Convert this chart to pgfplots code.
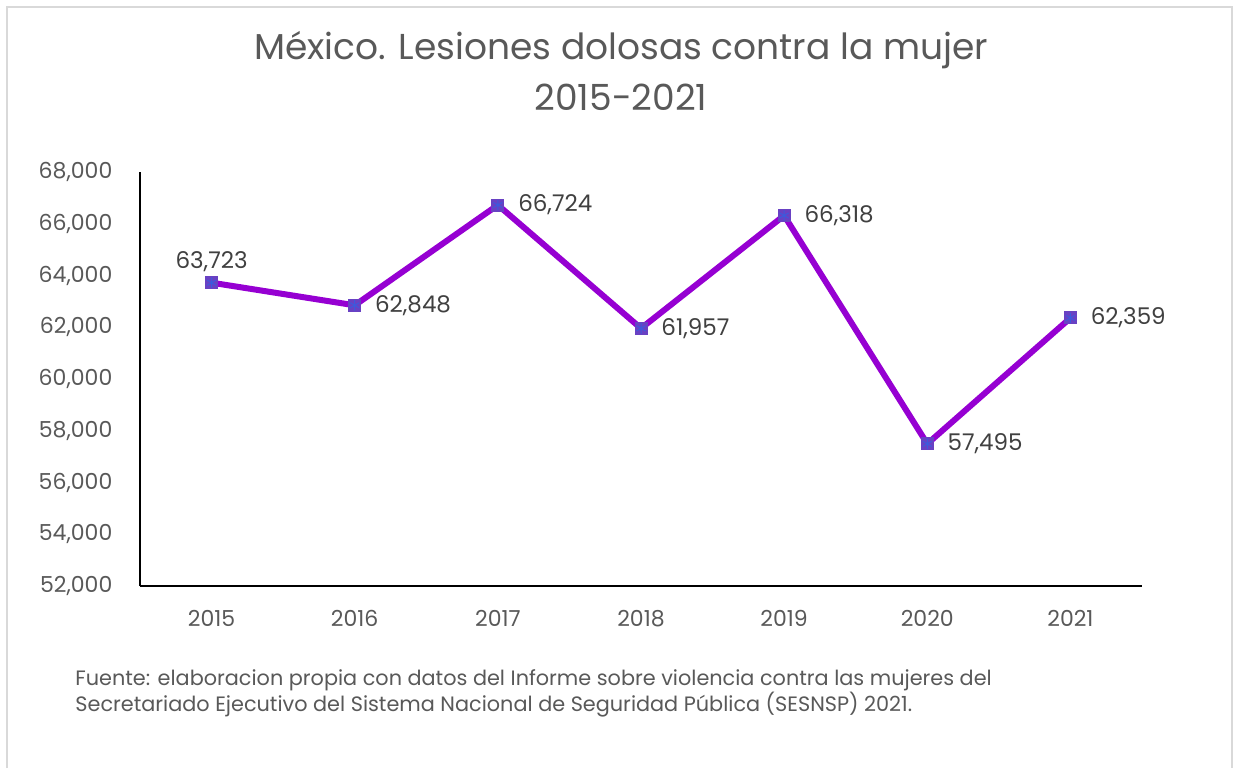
\documentclass[border=0pt]{standalone}
\usepackage{fontspec}
\setmainfont{Poppins}
\usepackage{pgfplots}
\pgfplotsset{compat=1.18}
\definecolor{linepurple}{RGB}{150,0,210}
\definecolor{markfill}{RGB}{105,65,195}
\definecolor{markstar}{RGB}{60,90,220}
\definecolor{txtgray}{RGB}{89,89,89}
\definecolor{lblgray}{RGB}{64,64,64}
\definecolor{framegray}{RGB}{217,217,217}
\begin{document}
\begin{tikzpicture}[x=1pt,y=1pt]
\useasboundingbox (0,0) rectangle (616.5,384);
\fill[white] (0,0) rectangle (616.5,384);
\draw[framegray, line width=1pt] (3.5,0) -- (3.5,380.5) -- (616,380.5) -- (616,0);
\node[font=\fontsize{18}{21}\selectfont, text=txtgray] at (310.5,359) {México. Lesiones dolosas contra la mujer};
\node[font=\fontsize{18}{21}\selectfont, text=txtgray] at (310.5,335.5) {2015-2021};
\node[anchor=base west, font=\fontsize{10.4}{12}\selectfont, text=txtgray, inner sep=0pt] at (37.5,41.5) {Fuente: elaboracion propia con datos del Informe sobre violencia contra las mujeres del};
\node[anchor=base west, font=\fontsize{10.4}{12}\selectfont, text=txtgray, inner sep=0pt] at (37.5,28.5) {Secretariado Ejecutivo del Sistema Nacional de Seguridad Pública (SESNSP) 2021.};
\begin{axis}[
  at={(70pt,91pt)}, anchor=south west,
  scale only axis, width=501pt, height=207pt,
  xmin=-0.5, xmax=6.5, ymin=52000, ymax=68000,
  xtick={0,1,2,3,4,5,6},
  xticklabels={2015,2016,2017,2018,2019,2020,2021},
  ytick={52000,54000,56000,58000,60000,62000,64000,66000,68000},
  scaled y ticks=false,
  axis x line=bottom, axis y line=left,
  axis line style={-, black, line width=1pt},
  tick style={draw=none},
  /pgf/number format/.cd, fixed, precision=0, 1000 sep={,}, assume math mode=true,
  /pgfplots/.cd,
  tick label style={font=\fontsize{11}{13}\selectfont, text=txtgray, inner sep=0pt},
  yticklabel style={xshift=-11.5pt},
  xticklabel style={yshift=-10pt},
  clip=false,
]
\addplot[linepurple, line width=3pt, mark=square*, mark size=3pt,
  mark options={fill=markfill, draw=markfill, line width=0.5pt}]
  coordinates {(0,63723) (1,62848) (2,66724) (3,61957) (4,66318) (5,57495) (6,62359)};
\addplot[only marks, mark=asterisk, mark size=2.6pt, mark options={draw=markstar, line width=0.5pt}]
  coordinates {(0,63723) (1,62848) (2,66724) (3,61957) (4,66318) (5,57495) (6,62359)};
\addplot[draw=none, mark=none, nodes near coords,
  nodes near coords style={anchor=south, yshift=5pt, font=\fontsize{11.5}{13}\selectfont, text=lblgray, inner sep=0pt}]
  coordinates {(0,63723)};
\addplot[draw=none, mark=none, nodes near coords,
  nodes near coords style={anchor=west, xshift=10pt, font=\fontsize{11.5}{13}\selectfont, text=lblgray, inner sep=0pt}]
  coordinates {(1,62848) (2,66724) (3,61957) (4,66318) (5,57495) (6,62359)};
\end{axis}
\end{tikzpicture}
\end{document}
